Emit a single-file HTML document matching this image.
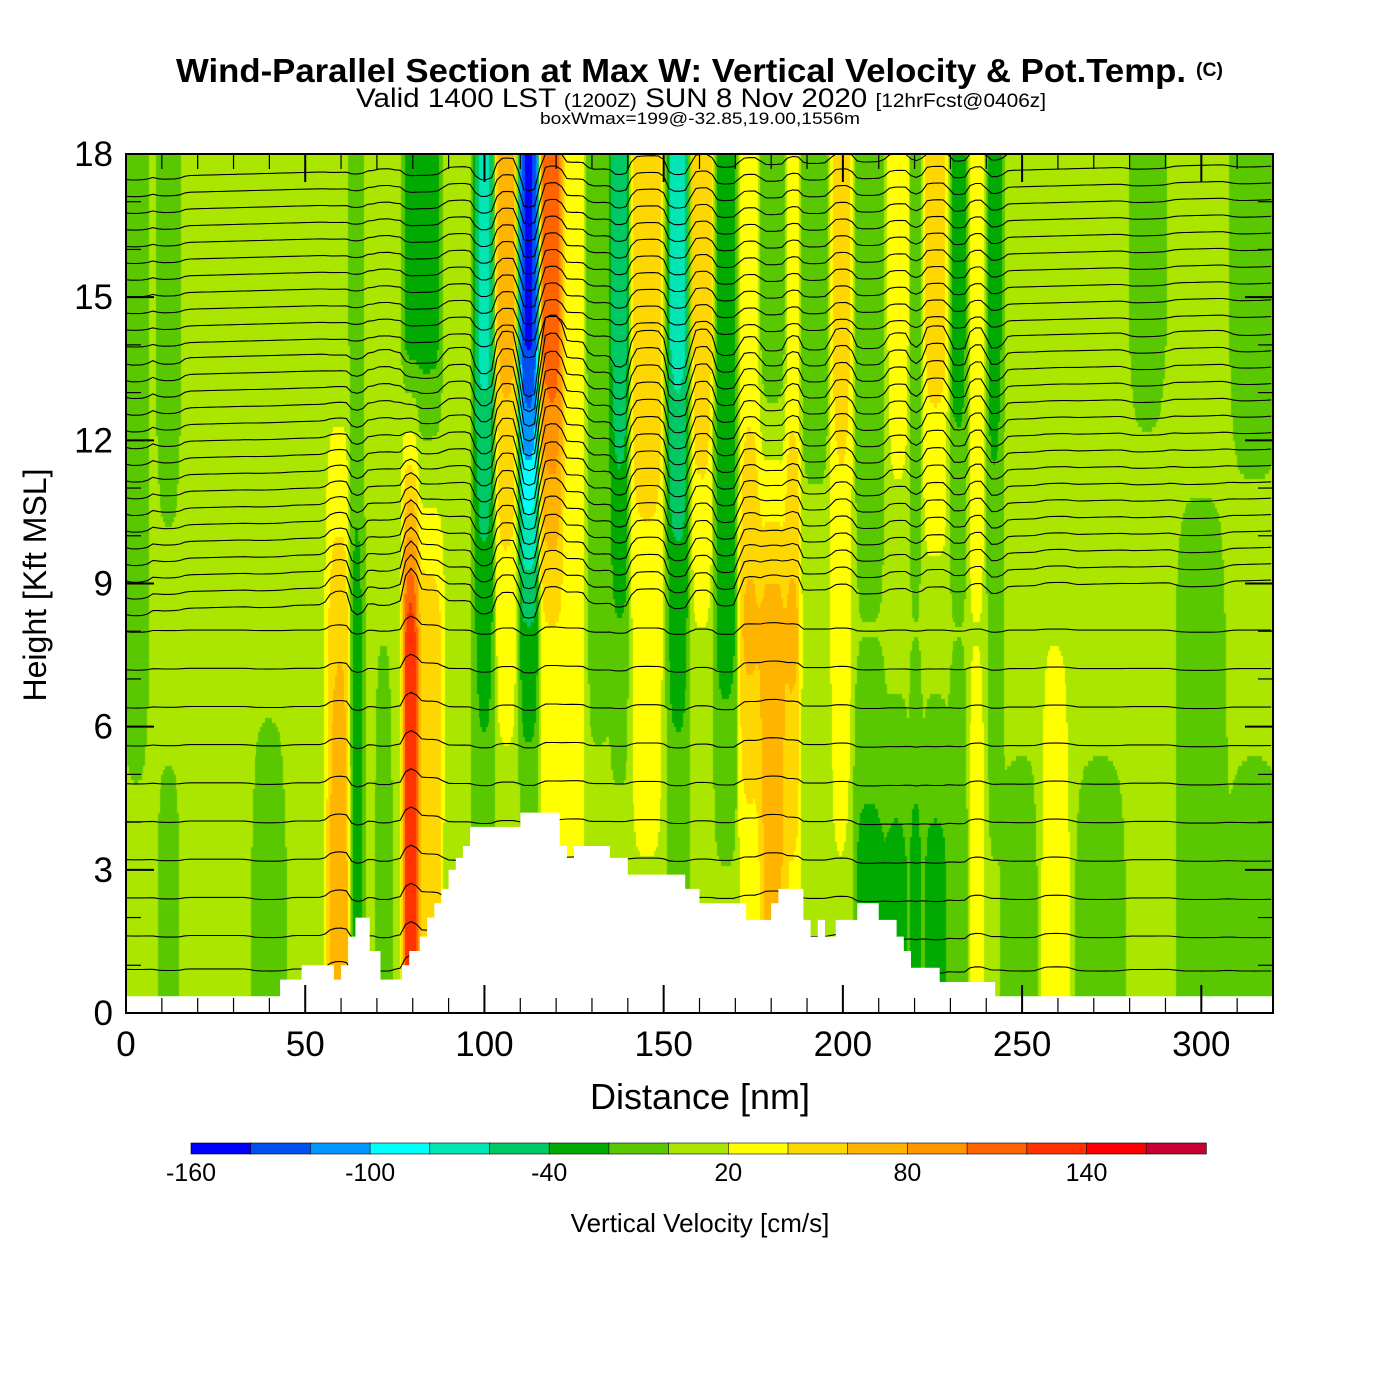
<!DOCTYPE html>
<html><head><meta charset="utf-8">
<style>
html,body{margin:0;padding:0;background:#fff;}
#wrap{position:relative;width:1400px;height:1400px;overflow:hidden;font-family:"Liberation Sans",sans-serif;}
svg text{font-family:"Liberation Sans",sans-serif;}
</style></head>
<body>
<div id="wrap">
<canvas id="field" width="1147" height="859" style="position:absolute;left:126px;top:154px"></canvas>
<svg id="svg" width="1400" height="1400" style="position:absolute;left:0;top:0">
<g>
<text x="176" y="82" font-weight="bold" font-size="33" textLength="1010" lengthAdjust="spacingAndGlyphs">Wind-Parallel Section at Max W: Vertical Velocity &amp; Pot.Temp.</text>
<text x="1196" y="76" font-weight="bold" font-size="19" textLength="27" lengthAdjust="spacingAndGlyphs">(C)</text>
<text x="356" y="107" font-size="27" textLength="690" lengthAdjust="spacingAndGlyphs">Valid 1400 LST <tspan font-size="19">(1200Z)</tspan> SUN 8 Nov 2020 <tspan font-size="19">[12hrFcst@0406z]</tspan></text>
<text x="540" y="124" font-size="17" textLength="320" lengthAdjust="spacingAndGlyphs">boxWmax=199@-32.85,19.00,1556m</text>
</g>
<g id="contours"></g>
<g id="terrain"></g>
<g id="axes"></g>
<g id="cbar"></g>
<text x="700" y="1109" text-anchor="middle" font-size="36">Distance [nm]</text>
<text transform="translate(46,585) rotate(-90)" text-anchor="middle" font-size="32">Height [Kft MSL]</text>
<text x="700" y="1232" text-anchor="middle" font-size="26">Vertical Velocity [cm/s]</text>
</svg>
</div>
<script>
// ---- data ----
const stripeCenter = [3,12,40,60,64,72,80,84,93,100,106,112.5,119,125,132,138,145.5,154,161,167.5,174,180.5,186,192.5,200,207.5,215,220.5,226,232.5,237.5,242.5,250,259,272,285,300,315];
const stripeHalf   = [3,3,4,3,2,2,2,4,4,3,3,2.5,3,3,3,2.5,4.5,3,3,3.5,3,3.5,2,3.5,3,4.5,3,1.5,3,2.5,2.5,2.5,5,4,6,5,6,6];
const stripeTopW   = [-10,-10,10,5,-10,20,-30,-30,20,-70,70,-150,120,30,-20,-60,60,-70,60,-30,30,-20,30,-20,50,-20,30,-20,50,-30,40,-30,10,10,10,-5,10,-10];
const stripeMidW   = [-10,5,5,60,-30,0,150,60,10,-30,30,-40,40,30,-10,-20,30,-30,20,-30,70,80,70,20,30,0,10,0,10,0,20,-10,10,20,10,10,-10,10];
const stripeLowW   = [5,-5,-10,80,-30,-10,150,60,0,-10,10,0,20,30,10,10,20,-10,10,0,30,70,40,0,20,-30,-30,-30,-30,-20,30,0,-10,30,-10,5,-10,-10];
// terrain as steps: each step starts at terrainDist[i] with height terrainH[i]
const terrainDist  = [0,43,49,58,60,62,64,68,71,77,79,82,84,86,88,90,92,94,96,110,121,123,125,135,140,156,160,173,180,182,189,191,193,195,198,204,210,215,217,219,227,242.5];
const terrainH     = [0.35,0.7,1.0,0.7,1.0,1.6,2.0,1.3,0.7,1.0,1.3,1.6,2.0,2.3,2.6,3.0,3.25,3.5,3.9,4.2,3.5,3.25,3.5,3.25,2.9,2.6,2.3,1.95,2.3,2.6,1.95,1.6,1.95,1.6,1.95,2.3,1.95,1.6,1.3,0.95,0.65,0.35];
const thetaBase    = [17.8,17.45,17.1,16.75,16.4,16.05,15.7,15.35,15.0,14.65,14.3,13.95,13.6,13.25,12.9,12.55,12.2,11.85,11.5,11.15,10.8,10.45,10.1,9.75,9.4,9.05,8.7,8.0,7.2,6.4,5.6,4.8,4.0,3.2,2.4,1.6,0.9];
const cbarLevels   = [-160,-140,-120,-100,-80,-60,-40,-20,0,20,40,60,80,100,120,140,160,180];
const cbarColors   = ["#0000ff","#0050f0","#0096ff","#00ffff","#00e6b4","#00c864","#00aa00","#5ac800","#aae600","#ffff00","#ffd700","#ffb400","#ff9600","#ff6400","#ff3200","#ff0000","#c80032"];
const xTickLabels  = [0,50,100,150,200,250,300];
const yTickLabels  = [0,3,6,9,12,15,18];

// ---- axes functions ----
const X0=126,X1=1273,Y0=1013,Y1=154,DMAX=320,HMAX=18;
const xs=d=>X0+d*(X1-X0)/DMAX;
const ys=h=>Y0-h*(Y0-Y1)/HMAX;
const NS="http://www.w3.org/2000/svg";
function mk(tag,attrs,parent){const e=document.createElementNS(NS,tag);for(const k in attrs)e.setAttribute(k,attrs[k]);parent.appendChild(e);return e;}

function wAt(d,h){
  let sw=0.05,sv=0.05*10;
  for(let i=0;i<stripeCenter.length;i++){
    const t=(d-stripeCenter[i])/stripeHalf[i];
    if(Math.abs(t)>3)continue;
    const wt=Math.exp(-2*t*t);
    let v;
    if(h>=8){const f=Math.min(1,(h-8)/6);v=stripeMidW[i]+(stripeTopW[i]-stripeMidW[i])*f;}
    else{const f=Math.max(0,(h-3)/5);v=stripeLowW[i]+(stripeMidW[i]-stripeLowW[i])*f;}
    sw+=wt;sv+=wt*v;
  }
  return sv/sw;
}
function colorOf(w){let k=Math.floor((w+160)/20);k=Math.max(0,Math.min(16,k));return cbarColors[k];}

// ---- field ----
const cv=document.getElementById('field'),ctx=cv.getContext('2d');
const dStep=0.5,hStep=0.1;
for(let d=0;d<DMAX;d+=dStep){
  for(let h=0;h<HMAX;h+=hStep){
    ctx.fillStyle=colorOf(wAt(d+dStep/2,h+hStep/2));
    const x=xs(d)-X0,y=ys(h+hStep)-Y1;
    ctx.fillRect(Math.floor(x),Math.floor(y),Math.ceil(xs(d+dStep)-xs(d))+1,Math.ceil(ys(h)-ys(h+hStep))+1);
  }
}

// ---- contours ----
const cg=document.getElementById('contours');
for(let j=0;j<thetaBase.length;j++){
  const b=thetaBase[j];let pts=[];
  for(let d=0;d<=DMAX;d+=1.5){
    const amp=b>8.5?(b>14?0.5:1.0):0.35;
    let h=b+wAt(d,b)/150*amp+(b<8.5?0:(d-160)*0.002);
    h=Math.max(0,Math.min(HMAX,h));
    pts.push(xs(d).toFixed(1)+","+ys(h).toFixed(1));
  }
  const pl=mk('polyline',{points:pts.join(' '),fill:'none',stroke:'#000','stroke-width':1.1},cg);
  
  
}

// ---- terrain ----
const tg=document.getElementById('terrain');
let tp=[xs(0)+","+ys(0)];
for(let i=0;i<terrainDist.length;i++){
  const dEnd=i+1<terrainDist.length?terrainDist[i+1]:DMAX;
  tp.push(xs(terrainDist[i]).toFixed(1)+","+ys(terrainH[i]).toFixed(1));
  tp.push(xs(dEnd).toFixed(1)+","+ys(terrainH[i]).toFixed(1));
}
tp.push(xs(DMAX)+","+ys(0));
const tpoly=mk('polygon',{points:tp.join(' '),fill:'#fff',stroke:'none'},tg);



// ---- axes ----
const ag=document.getElementById('axes');
mk('rect',{x:X0,y:Y1,width:X1-X0,height:Y0-Y1,fill:'none',stroke:'#000','stroke-width':2},ag);
for(let d=0;d<=DMAX;d+=10){
  const maj=d%50===0,L=maj?28:15,x=xs(d);
  mk('line',{x1:x,y1:Y0,x2:x,y2:Y0-L,stroke:'#000','stroke-width':maj?2:1.2},ag);
  mk('line',{x1:x,y1:Y1,x2:x,y2:Y1+L,stroke:'#000','stroke-width':maj?2:1.2},ag);
}
for(let h=0;h<=HMAX;h+=1){
  const maj=h%3===0,L=maj?28:15,y=ys(h);
  mk('line',{x1:X0,y1:y,x2:X0+L,y2:y,stroke:'#000','stroke-width':maj?2:1.2},ag);
  mk('line',{x1:X1,y1:y,x2:X1-L,y2:y,stroke:'#000','stroke-width':maj?2:1.2},ag);
}
xTickLabels.forEach(v=>{
  const t=mk('text',{x:xs(v),y:1056,'text-anchor':'middle','font-size':35},ag);t.textContent=v;
  
  
});
yTickLabels.forEach(v=>{
  const t=mk('text',{x:113,y:ys(v)+12,'text-anchor':'end','font-size':35},ag);t.textContent=v;
  
  
});

// ---- colorbar ----
const bg=document.getElementById('cbar');
const CB0=191,CBW=59.7,CBY=1143,CBH=11;
for(let i=0;i<cbarColors.length;i++){
  const r=mk('rect',{x:CB0+i*CBW,y:CBY,width:CBW+0.5,height:CBH,fill:cbarColors[i],stroke:'#000','stroke-width':0.6},bg);
  
  
}
for(let i=0;i<cbarLevels.length;i+=3){
  const t=mk('text',{x:CB0+i*CBW,y:1181,'text-anchor':'middle','font-size':25},bg);t.textContent=cbarLevels[i];
  
  
}
</script>
</body></html>
